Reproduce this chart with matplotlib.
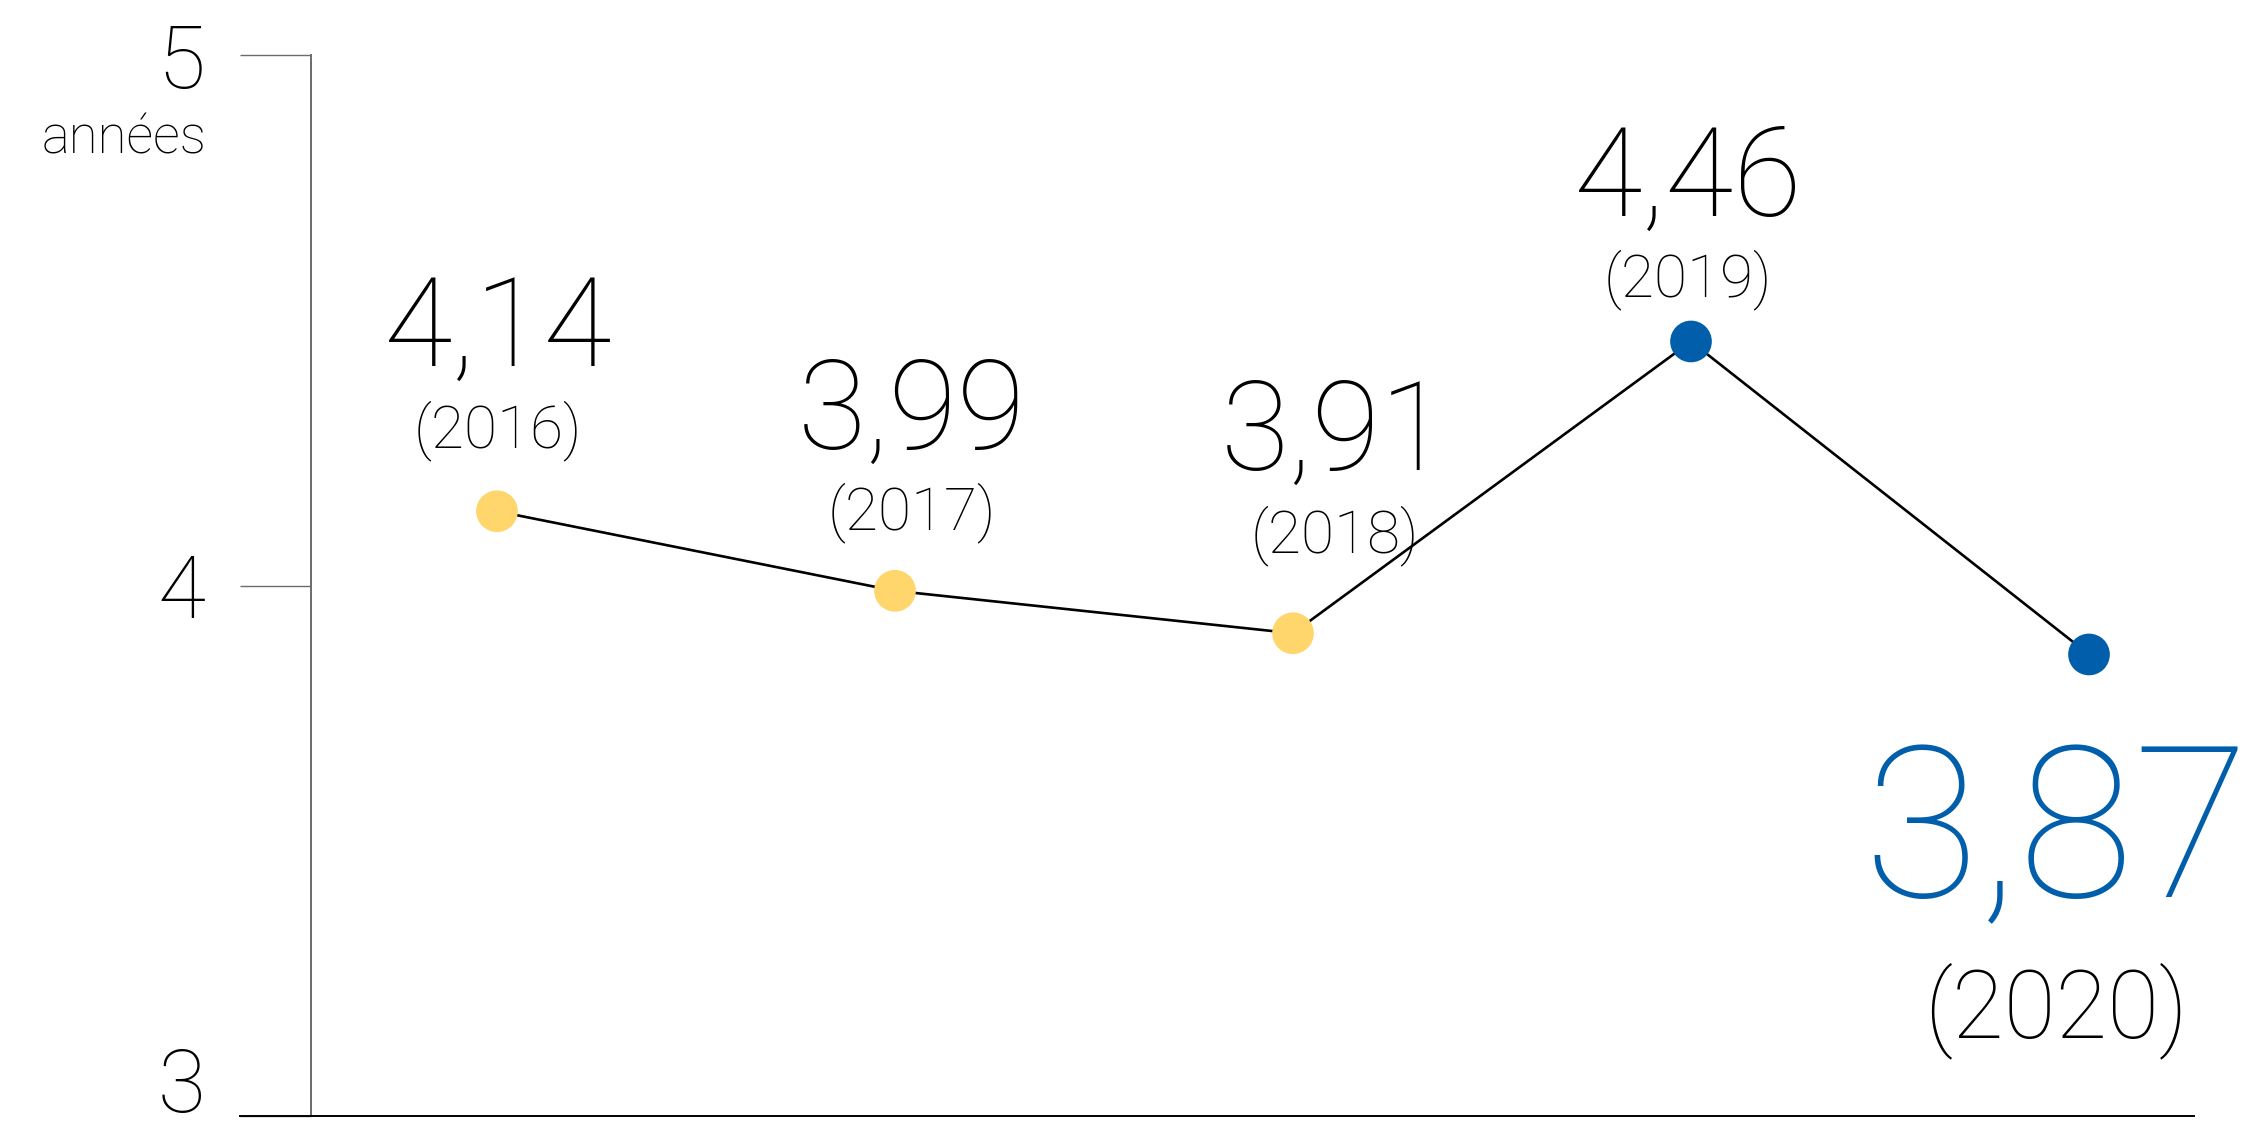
import matplotlib
matplotlib.use("Agg")
import matplotlib.pyplot as plt
import matplotlib.transforms as mtransforms

# ---- data ----
years = ["2016", "2017", "2018", "2019", "2020"]
values = [4.14, 3.99, 3.91, 4.46, 3.87]
y_ticks = [3, 4, 5]
y_tick_labels = ["3", "4", "5"]
unit_label = "années"

# ---- styles ----
YELLOW = "#FFD66B"
BLUE = "#005EAA"
point_colors = [YELLOW, YELLOW, YELLOW, BLUE, BLUE]
# label offsets in pixels (value baseline, year baseline, x shift)
value_offsets = [(1, 145), (17, 142), (42, 163), (-3, 126), (-33, -243)]
year_offsets = [(1, 64), (17, 61), (42, 81), (-3, 45), (-33, -383)]
value_sizes = [90, 90, 90, 90, 152]
year_sizes = [43.5, 43.5, 43.5, 43.5, 68]
value_colors = ["black", "black", "black", "black", BLUE]

plt.rcParams["font.family"] = ["Roboto", "DejaVu Sans"]

W, H = 2258, 1125
fig = plt.figure(figsize=(W / 100, H / 100), dpi=100)
ax = fig.add_axes([240 / W, (H - 1116) / H, (2194 - 240) / W, (1116 - 55) / H])

x = list(range(len(years)))
ax.plot(x, values, color="black", lw=1.9, zorder=2)
ax.scatter(x, values, c=point_colors, s=900, zorder=3, linewidths=0)

ax.set_xlim(-0.6457, 4.2638)
ax.set_ylim(3, 5)

for s in ["top", "right"]:
    ax.spines[s].set_visible(False)
ax.spines["left"].set_position(("axes", 71 / (2194 - 240)))
ax.spines["left"].set_color("#6b6b6b")
ax.spines["left"].set_linewidth(1.4)
ax.spines["bottom"].set_color("black")
ax.spines["bottom"].set_linewidth(1.4)
ax.set_xticks([])
ax.set_yticks(y_ticks)
ax.set_yticklabels(y_tick_labels)
ax.tick_params(axis="y", direction="out", length=51, width=1.0, color="#6b6b6b",
               pad=25, labelsize=63)
for lab in ax.get_yticklabels():
    lab.set_fontweight("light")
    if lab.get_text() == "3":
        lab.set_va("baseline")
        lab.set_transform(lab.get_transform() + mtransforms.ScaledTranslation(0, 4 / 100, fig.dpi_scale_trans))
    else:
        lab.set_va("center_baseline")

fig.text(207 / W, 1 - 153 / H, unit_label, ha="right", va="baseline",
         fontsize=38, fontweight="light")

for i, (yr, v) in enumerate(zip(years, values)):
    ax.annotate(f"{v:.2f}".replace(".", ","), (i, v), xytext=value_offsets[i],
                textcoords="offset pixels", ha="center", va="baseline",
                fontsize=value_sizes[i], fontweight="light", color=value_colors[i],
                annotation_clip=False)
    ax.annotate(f"({yr})", (i, v), xytext=year_offsets[i],
                textcoords="offset pixels", ha="center", va="baseline",
                fontsize=year_sizes[i], fontweight="light", color="black",
                annotation_clip=False)

fig.savefig("out.png", dpi=100)
